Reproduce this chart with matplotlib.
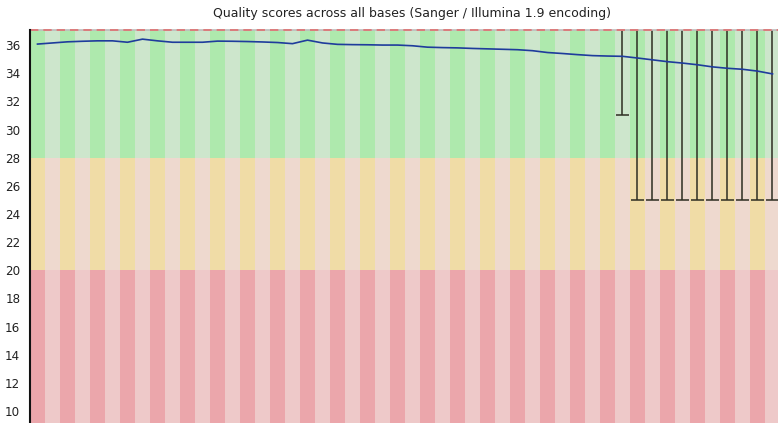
import numpy as np
import matplotlib
matplotlib.use('Agg')
import matplotlib.pyplot as plt

# positions along the read (one stripe per group of bases)
n_pos = 50
positions = np.arange(n_pos)

# mean quality per position
mean_q = [36.07, 36.15, 36.23, 36.27, 36.30, 36.30, 36.20, 36.42, 36.30, 36.20,
          36.20, 36.20, 36.28, 36.27, 36.25, 36.22, 36.18, 36.10, 36.35, 36.15,
          36.05, 36.03, 36.02, 36.00, 36.00, 35.95, 35.85, 35.82, 35.80, 35.76,
          35.73, 35.70, 35.67, 35.60, 35.47, 35.40, 35.32, 35.25, 35.22, 35.20,
          35.08, 34.95, 34.82, 34.72, 34.60, 34.45, 34.35, 34.28, 34.15, 33.95]

# whiskers (10th percentile) for the last positions, upper end off the chart
whisker_pos = [39, 40, 41, 42, 43, 44, 45, 46, 47, 48, 49]
whisker_low = [31, 25, 25, 25, 25, 25, 25, 25, 25, 25, 25]
whisker_high = [38] * 11

y_min, y_max = 9.15, 37.07

fig = plt.figure(figsize=(7.78, 4.23), dpi=100)
ax = fig.add_axes([30 / 778, 0, 750 / 778, 393 / 423])

# background stripes: green / orange / red zones, alternating shades
even = positions % 2 == 0
green = np.where(even, '#aee9ad', '#cde6cc')
orange = np.where(even, '#f0dca6', '#eed9cf')
red = np.where(even, '#eba6ab', '#eec9c9')
ax.bar(positions, y_max + 1 - 28, bottom=28, width=1, color=green, linewidth=0)
ax.bar(positions, 8, bottom=20, width=1, color=orange, linewidth=0)
ax.bar(positions, 20 - y_min + 1, bottom=y_min - 1, width=1, color=red, linewidth=0)

# whiskers
ax.vlines(whisker_pos, whisker_low, whisker_high, color='#2e2e22', linewidth=1.1)
ax.hlines(whisker_low, np.array(whisker_pos) - 0.42, np.array(whisker_pos) + 0.42,
          color='#2e2e22', linewidth=1.1)

# mean line
ax.plot(positions, mean_q, color='#1f3c9c', linewidth=1.2)

# dashed top border
ax.axhline(y_max - 0.03, color='#bdbdbd', linewidth=1.2, clip_on=False)
ax.axhline(y_max - 0.03, color='#e07070', linewidth=1.2, linestyle=(0, (5, 3)), clip_on=False)

ax.set_xlim(-0.5, n_pos - 0.5)
ax.set_ylim(y_min, y_max)
ax.set_yticks(range(10, 37, 2))
ax.set_xticks([])
ax.tick_params(axis='y', length=0, pad=7, labelsize=8.6, labelcolor='#222222')
for s in ['top', 'right', 'bottom']:
    ax.spines[s].set_visible(False)
ax.spines['left'].set_linewidth(1.5)
ax.spines['left'].set_color('#111111')

fig.text(412 / 778, 1 - 14 / 423, 'Quality scores across all bases (Sanger / Illumina 1.9 encoding)',
         ha='center', va='center', fontsize=9, color='#222222')

fig.savefig('out.png', dpi=100)
